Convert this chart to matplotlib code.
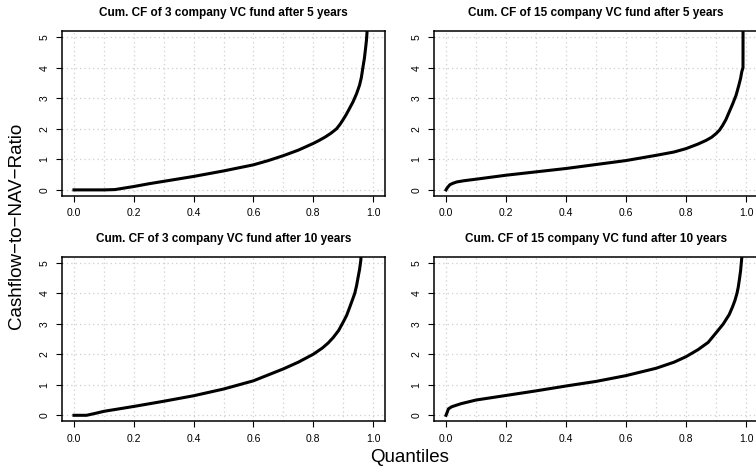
import matplotlib
matplotlib.use("Agg")
import matplotlib.pyplot as plt
import numpy as np

plt.rcParams['font.family'] = ['Liberation Sans', 'DejaVu Sans']

titles = ["Cum. CF of 3 company VC fund after 5 years",
          "Cum. CF of 15 company VC fund after 5 years",
          "Cum. CF of 3 company VC fund after 10 years",
          "Cum. CF of 15 company VC fund after 10 years"]

p_3c_5y = [0, 0.05, 0.1, 0.137, 0.2, 0.25, 0.3, 0.35, 0.4, 0.45, 0.5, 0.55, 0.6, 0.65, 0.7,
           0.75, 0.8, 0.82, 0.84, 0.86, 0.878, 0.89, 0.9, 0.91, 0.92, 0.933, 0.945, 0.955,
           0.961, 0.966, 0.971, 0.975, 0.978, 0.98, 0.985]
v_3c_5y = [0, 0, 0, 0.01, 0.11, 0.2, 0.28, 0.36, 0.44, 0.53, 0.62, 0.72, 0.82, 0.96, 1.12,
           1.3, 1.52, 1.62, 1.73, 1.86, 2.0, 2.15, 2.3, 2.46, 2.64, 2.88, 3.15, 3.43,
           3.68, 4.0, 4.3, 4.63, 4.9, 5.17, 7.0]

p_15c_5y = [0, 0.005, 0.013, 0.024, 0.036, 0.06, 0.1, 0.2, 0.3, 0.4, 0.5, 0.6, 0.7, 0.76,
            0.8, 0.84, 0.867, 0.885, 0.9, 0.912, 0.922, 0.933, 0.944, 0.955, 0.967, 0.976,
            0.982, 0.986, 0.99, 0.9905]
v_15c_5y = [0, 0.08, 0.17, 0.22, 0.26, 0.3, 0.35, 0.48, 0.59, 0.70, 0.83, 0.96, 1.13, 1.24,
            1.35, 1.5, 1.62, 1.72, 1.84, 1.96, 2.11, 2.3, 2.55, 2.8, 3.1, 3.42,
            3.65, 3.87, 4.0, 8.0]

p_3c_10y = [0, 0.042, 0.07, 0.1, 0.15, 0.2, 0.3, 0.4, 0.5, 0.6, 0.7, 0.75, 0.8, 0.83, 0.85,
            0.867, 0.885, 0.9, 0.912, 0.922, 0.931, 0.939, 0.945, 0.95, 0.955, 0.959, 0.965]
v_3c_10y = [0, 0, 0.06, 0.13, 0.21, 0.29, 0.46, 0.64, 0.86, 1.13, 1.52, 1.74, 2.0, 2.2, 2.37,
            2.55, 2.78, 3.05, 3.28, 3.54, 3.78, 4.0, 4.25, 4.52, 4.78, 5.07, 6.0]

p_15c_10y = [0, 0.004, 0.008, 0.019, 0.05, 0.1, 0.2, 0.3, 0.4, 0.5, 0.6, 0.7, 0.76, 0.8,
             0.84, 0.874, 0.9, 0.924, 0.944, 0.955, 0.963, 0.97, 0.974, 0.978, 0.982,
             0.986, 0.99]
v_15c_10y = [0, 0.1, 0.21, 0.28, 0.38, 0.5, 0.65, 0.80, 0.96, 1.11, 1.3, 1.54, 1.74, 1.92,
             2.15, 2.39, 2.7, 2.99, 3.3, 3.55, 3.76, 4.0, 4.19, 4.45, 4.74, 5.17, 6.0]

series = [(p_3c_5y, v_3c_5y), (p_15c_5y, v_15c_5y),
          (p_3c_10y, v_3c_10y), (p_15c_10y, v_15c_10y)]

xticks = [0.0, 0.2, 0.4, 0.6, 0.8, 1.0]
xticklabels = ["0.0", "0.2", "0.4", "0.6", "0.8", "1.0"]
yticks = [0, 1, 2, 3, 4, 5]
xgrid = [i / 10 for i in range(11)]

W, H = 756, 470
fig = plt.figure(figsize=(W / 100, H / 100), dpi=100)

# panel boxes in pixels: (left, top, right, bottom)
boxes = [(62, 31, 385, 196), (434, 31, 758, 196),
         (62, 256.6, 385, 421.4), (434, 256.6, 758, 421.4)]

for (l, t, r, b), (p, v), title in zip(boxes, series, titles):
    ax = fig.add_axes([l / W, (H - b) / H, (r - l) / W, (b - t) / H])
    for gx in xgrid:
        ax.axvline(gx, color='#cfcfcf', lw=0.9, ls=(0, (1, 2.5)), zorder=0)
    for gy in yticks:
        ax.axhline(gy, color='#cfcfcf', lw=0.9, ls=(0, (1, 2.5)), zorder=0)
    ax.plot(p, v, color='black', lw=2.2, solid_joinstyle='round', zorder=3)
    ax.set_xlim(-0.04, 1.04)
    ax.set_ylim(-0.2, 5.2)
    ax.set_xticks(xticks)
    ax.set_xticklabels(xticklabels)
    ax.set_yticks(yticks)
    ax.set_yticklabels([str(y) for y in yticks], rotation=90, va='center')
    ax.tick_params(axis='both', direction='out', length=4.5, width=0.8,
                   labelsize=7.5, pad=4.5, colors='black')
    for s in ax.spines.values():
        s.set_linewidth(1.1)
    ax.set_title(title, fontsize=8.5, fontweight='bold', pad=10.5)

fig.text(17 / W, 1 - 226 / H, "Cashflow\u2212to\u2212NAV\u2212Ratio", rotation=90,
         ha='center', va='center', fontsize=13.5)
fig.text(410 / W, 1 - 458 / H, "Quantiles", ha='center', va='center', fontsize=13.5)

fig.savefig("out.png", dpi=100)
